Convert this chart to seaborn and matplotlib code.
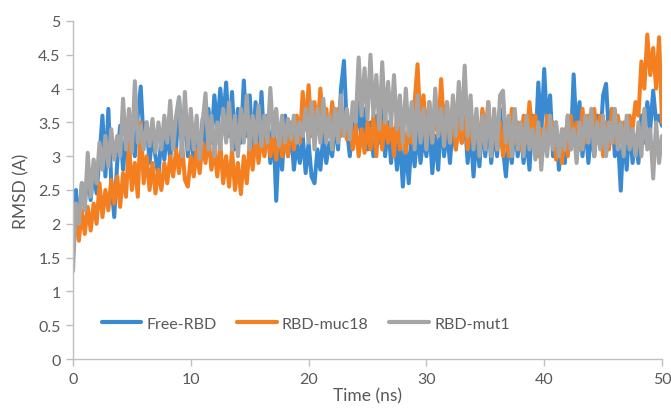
import numpy as np
import pandas as pd
import matplotlib
matplotlib.use("Agg")
import matplotlib.pyplot as plt
import seaborn as sns

# sampling grid (ns), one value every 0.25 ns
time_ns = np.arange(0, 50.001, 0.25)

free_rbd = [
    2.05, 2.5, 1.95, 2.6, 2.3, 2.75, 2.35, 2.8,
    2.45, 3.0, 3.6, 2.7, 3.7, 2.6, 2.1, 2.9,
    3.45, 2.8, 3.3, 2.9, 3.4, 3.0, 3.6, 4.03,
    3.2, 3.5, 2.9, 3.35, 3.0, 2.7, 3.3, 2.95,
    3.4, 2.95, 3.5, 3.1, 3.87, 3.2, 3.6, 3.0,
    3.5, 2.85, 3.4, 2.9, 3.55, 3.0, 3.7, 3.2,
    3.9, 3.4, 4.0, 3.5, 4.09, 3.3, 3.95, 3.1,
    3.7, 3.2, 4.12, 3.3, 3.9, 3.1, 3.8, 3.0,
    3.95, 3.1, 3.6, 2.9, 3.5, 2.34, 3.3, 2.8,
    3.6, 3.0, 3.4, 2.8, 3.2, 2.9, 3.3, 2.75,
    3.2, 2.7, 2.6, 3.1, 2.8, 3.3, 2.9, 3.2,
    3.0, 3.5, 3.1, 4.0, 4.41, 3.4, 3.0, 3.6,
    3.3, 3.8, 3.2, 3.7, 3.1, 3.5, 3.0, 3.6,
    3.2, 3.7, 3.0, 3.5, 2.9, 3.4, 2.8, 3.3,
    2.55, 3.2, 2.6, 3.3, 2.85, 3.4, 2.9, 3.3,
    3.0, 3.5, 2.75, 3.3, 2.8, 3.6, 3.0, 3.4,
    2.9, 3.5, 3.1, 3.7, 3.2, 3.6, 2.9, 3.4,
    2.7, 3.3, 2.85, 3.5, 3.0, 3.6, 2.9, 3.4,
    3.0, 3.7, 3.1, 2.7, 3.3, 2.9, 3.5, 3.0,
    3.4, 2.9, 3.3, 2.8, 3.6, 3.1, 4.09, 3.3,
    4.29, 3.4, 3.9, 3.0, 3.5, 2.8, 3.3, 2.9,
    3.6, 3.1, 4.21, 3.3, 3.8, 3.0, 3.5, 2.9,
    3.4, 3.0, 3.6, 3.2, 3.9, 4.07, 3.3, 3.7,
    3.0, 3.3, 2.49, 3.4, 2.8, 3.5, 2.9, 3.3,
    2.9, 3.6, 3.2, 3.8, 3.4, 3.97, 3.5, 3.6,
    3.45,
]

rbd_muc18 = [
    1.6, 2.1, 1.75, 2.2, 1.85, 2.25, 1.9, 2.3,
    2.0, 2.6, 2.1, 2.5, 2.2, 2.65, 2.3, 2.7,
    2.25, 2.75, 2.4, 3.2, 2.5, 2.9, 2.4, 3.5,
    2.6, 3.0, 2.5, 2.9, 2.45, 2.8, 2.5, 2.9,
    2.6, 3.0, 2.7, 3.1, 2.75, 3.2, 2.65, 2.55,
    3.0, 2.7, 3.1, 2.75, 3.2, 2.9, 3.3, 2.8,
    3.1, 2.7, 3.2, 2.6, 3.0, 2.55, 3.1, 2.5,
    2.9, 2.44, 3.0, 2.6, 3.2, 2.8, 3.3, 2.9,
    3.3, 3.0, 3.4, 3.0, 3.3, 2.95, 3.4, 3.0,
    3.3, 3.0, 3.5, 3.1, 3.6, 3.2, 3.95, 3.4,
    4.05, 3.3, 3.8, 3.4, 4.0, 3.35, 3.7, 3.3,
    3.8, 3.4, 3.7, 3.3, 3.6, 3.25, 3.5, 3.1,
    3.45, 3.0, 3.4, 3.05, 3.5, 3.1, 3.6, 3.0,
    3.7, 3.1, 3.6, 3.2, 3.5, 3.0, 3.6, 3.1,
    3.5, 3.05, 3.4, 3.2, 3.8, 4.36, 3.4, 3.9,
    3.3, 3.8, 3.2, 3.7, 3.3, 4.14, 3.4, 3.8,
    3.2, 3.6, 3.1, 3.5, 3.2, 3.6, 3.1, 3.5,
    3.2, 3.6, 3.1, 3.7, 3.3, 3.8, 3.2, 3.6,
    3.1, 3.5, 3.0, 3.4, 3.0, 3.7, 3.2, 3.5,
    3.1, 3.6, 3.2, 3.8, 3.3, 3.6, 3.0, 3.4,
    3.1, 3.6, 3.2, 3.5, 2.95, 3.3, 2.9, 3.4,
    3.0, 3.6, 3.2, 3.5, 3.1, 3.7, 3.2, 3.6,
    3.3, 3.7, 3.2, 3.6, 3.0, 3.5, 3.1, 3.7,
    3.2, 3.6, 3.3, 3.5, 3.2, 3.6, 3.4, 3.8,
    3.6, 4.4, 4.0, 4.8, 4.2, 4.6, 4.0, 4.76,
    3.5,
]

rbd_mut1 = [
    1.3, 2.3, 2.0, 2.6, 2.2, 3.05, 2.4, 2.95,
    2.6, 3.2, 2.8, 3.3, 2.85, 3.4, 2.95, 3.3,
    3.0, 3.85, 3.1, 3.7, 3.06, 4.11, 3.2, 3.45,
    3.1, 3.5, 3.15, 3.55, 3.06, 3.5, 3.1, 3.6,
    3.2, 3.82, 3.1, 3.6, 3.87, 3.0, 3.95, 3.1,
    3.7, 3.1, 3.6, 2.96, 3.5, 3.93, 3.1, 3.6,
    3.0, 3.5, 3.1, 3.7, 3.2, 3.8, 3.1, 3.6,
    3.0, 3.7, 3.2, 3.9, 3.1, 3.6, 3.2, 3.75,
    3.15, 3.6, 3.2, 4.01, 3.3, 3.7, 3.15, 3.6,
    3.2, 3.55, 3.25, 3.6, 3.2, 3.5, 3.3, 3.7,
    3.2, 3.8, 3.1, 3.7, 3.2, 3.85, 3.2, 3.6,
    3.1, 3.7, 3.2, 3.9, 3.3, 3.7, 3.25, 3.8,
    3.5, 4.46, 3.6, 4.3, 3.55, 4.5, 3.6, 4.2,
    3.4, 4.39, 3.5, 4.1, 3.45, 4.2, 3.4, 3.9,
    3.2, 4.0, 3.3, 3.8, 3.1, 3.9, 3.2, 3.7,
    3.1, 3.8, 3.2, 4.0, 3.3, 3.7, 3.15, 3.8,
    3.2, 3.9, 3.3, 4.1, 3.4, 4.34, 3.3, 3.9,
    3.1, 3.7, 3.0, 3.6, 3.1, 3.8, 3.0, 3.7,
    3.1, 3.9, 3.97, 3.2, 3.6, 3.0, 3.7, 3.1,
    3.5, 3.0, 3.6, 3.1, 3.4, 2.95, 3.5, 2.8,
    3.4, 3.0, 3.6, 3.1, 3.5, 3.0, 3.4, 3.1,
    3.6, 3.1, 3.4, 2.9, 3.5, 3.1, 3.6, 3.2,
    3.7, 3.0, 3.5, 3.1, 3.6, 3.0, 3.5, 3.2,
    3.7, 3.1, 3.5, 3.0, 3.6, 3.1, 3.4, 3.0,
    3.5, 3.0, 3.7, 3.1, 3.4, 2.67, 3.5, 2.9,
    3.3,
]

series_names = ["Free-RBD", "RBD-muc18", "RBD-mut1"]
series_colors = ["#3a8ad2", "#f47f20", "#a5a5a5"]

df = pd.DataFrame({
    "Time (ns)": np.tile(time_ns, 3),
    "RMSD (A)": free_rbd + rbd_muc18 + rbd_mut1,
    "series": np.repeat(series_names, len(time_ns)),
})

sns.set_style("white")
plt.rcParams["font.family"] = ["Lato", "DejaVu Sans"]

fig = plt.figure(figsize=(6.71, 4.14), dpi=100)
ax = fig.add_axes([0.1088, 0.1304, 0.8778, 0.8165])

sns.lineplot(data=df, x="Time (ns)", y="RMSD (A)", hue="series",
             hue_order=series_names, palette=series_colors,
             linewidth=2.9, ax=ax, estimator=None, sort=False)

ax.set_xlim(0, 50)
ax.set_ylim(0, 5)
ax.set_xticks([0, 10, 20, 30, 40, 50])
yt = [0, 0.5, 1, 1.5, 2, 2.5, 3, 3.5, 4, 4.5, 5]
ax.set_yticks(yt)
ax.set_yticklabels([f"{v:g}" for v in yt])

for side in ["top", "right"]:
    ax.spines[side].set_visible(False)
for side in ["left", "bottom"]:
    ax.spines[side].set_color("#bfbfbf")
    ax.spines[side].set_linewidth(1.0)
ax.tick_params(axis="both", which="both", direction="out", length=5,
               width=1.0, color="#bfbfbf", labelcolor="#595959",
               labelsize=11.5, pad=4, bottom=True, left=True)
ax.set_xlabel("Time (ns)", fontsize=12.5, color="#595959", labelpad=1)
ax.set_ylabel("RMSD (A)", fontsize=12.5, color="#595959", labelpad=6)

leg = ax.legend(loc="center", bbox_to_anchor=(0.395, 0.105), ncol=3,
                frameon=False, fontsize=11.5, handlelength=2.5,
                handletextpad=0.3, columnspacing=1.3)
for line in leg.get_lines():
    line.set_linewidth(3)
for txt in leg.get_texts():
    txt.set_color("#595959")

fig.savefig("out.png", dpi=100)
